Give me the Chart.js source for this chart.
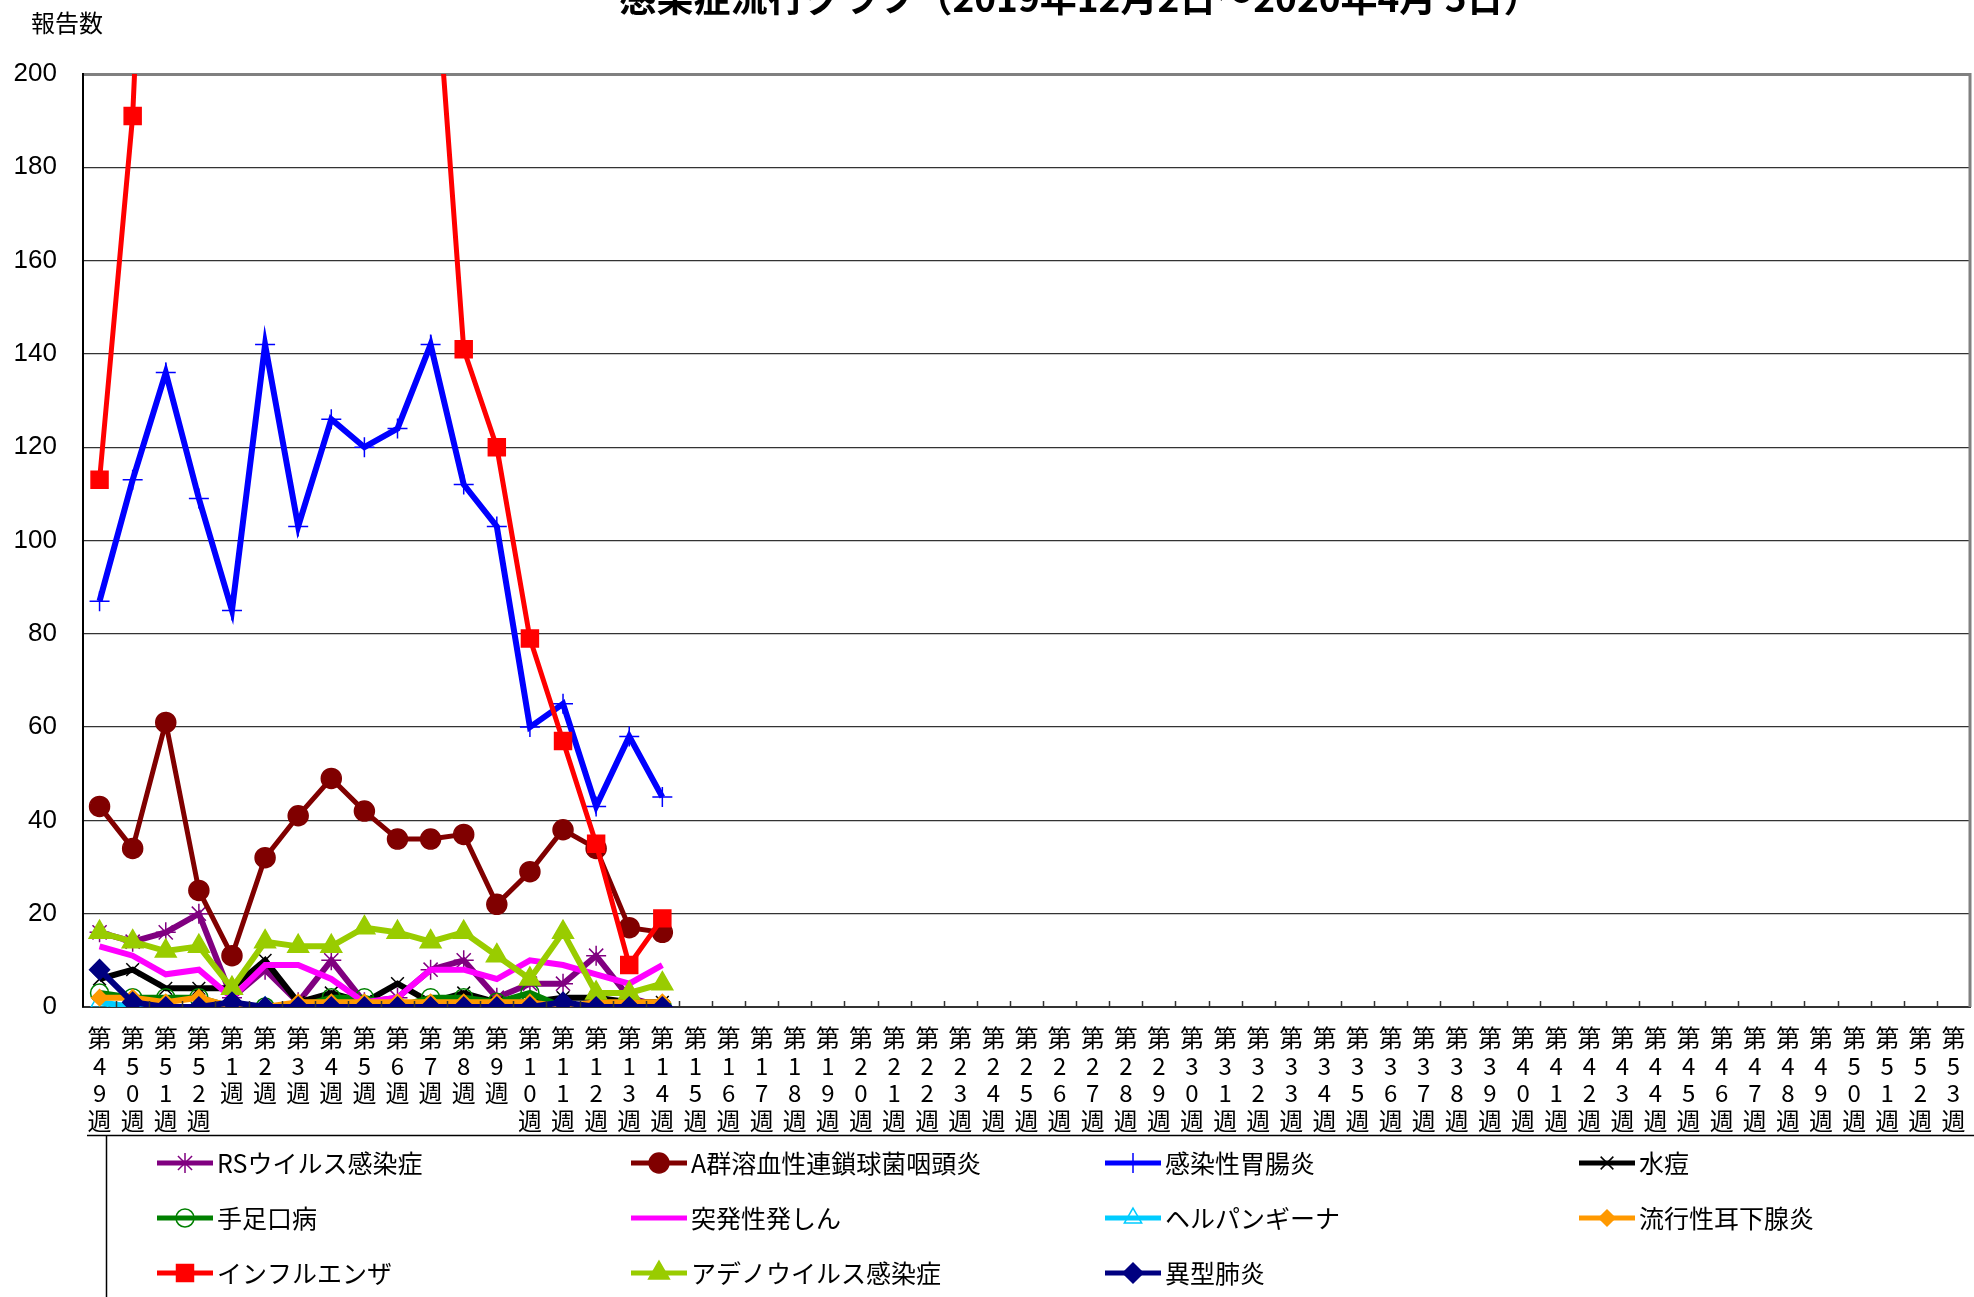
<!DOCTYPE html>
<html>
<head>
<meta charset="utf-8">
<script src="https://cdn.jsdelivr.net/npm/chart.js@4.4.1/dist/chart.umd.min.js"></script>
<style>
  html, body { margin: 0; padding: 0; background: #fff; overflow: hidden; }
  canvas { display: block; }
</style>
</head>
<body>
<canvas id="graph" width="1974" height="1297"></canvas>
<script>
// 週ラベル
const weekLabels = [
  '第49週','第50週','第51週','第52週',
  '第1週','第2週','第3週','第4週','第5週','第6週','第7週','第8週','第9週','第10週',
  '第11週','第12週','第13週','第14週','第15週','第16週','第17週','第18週','第19週','第20週',
  '第21週','第22週','第23週','第24週','第25週','第26週','第27週','第28週','第29週','第30週',
  '第31週','第32週','第33週','第34週','第35週','第36週','第37週','第38週','第39週','第40週',
  '第41週','第42週','第43週','第44週','第45週','第46週','第47週','第48週','第49週','第50週',
  '第51週','第52週','第53週'
];
const yTicks = [0, 20, 40, 60, 80, 100, 120, 140, 160, 180, 200];

// 報告数（第49週〜第14週）
const rsVirus    = [16, 14, 16, 20, 2, 8, 1, 10, 1, 2, 8, 10, 2, 5, 5, 11, 2, 0];
const groupA     = [43, 34, 61, 25, 11, 32, 41, 49, 42, 36, 36, 37, 22, 29, 38, 34, 17, 16];
const gastro     = [87, 113, 136, 109, 85, 142, 103, 126, 120, 124, 142, 112, 103, 60, 65, 43, 58, 45];
const varicella  = [6, 8, 4, 4, 4, 10, 1, 3, 1, 5, 1, 3, 1, 1, 2, 2, 1, 1];
const hfmd       = [3, 2, 2, 2, 0, 0, 0, 2, 2, 0, 2, 2, 1, 3, 0, 0, 0, 0];
const exanthem   = [13, 11, 7, 8, 2, 9, 9, 6, 1, 2, 8, 8, 6, 10, 9, 7, 5, 9];
const herpangina = [1, 0, 0, 0, 0, 0, 0, 0, 0, 0, 0, 0, 0, 0, 0, 0, 0, 0];
const mumps      = [2, 2, 1, 2, 0, 0, 1, 1, 1, 1, 1, 1, 1, 1, 0, 1, 1, 1];
const influenza  = [113, 191, 350, 420, 300, 330, 380, 320, 290, 260, 238, 141, 120, 79, 57, 35, 9, 19];
const adeno      = [16, 14, 12, 13, 4, 14, 13, 13, 17, 16, 14, 16, 11, 6, 16, 3, 3, 5];
const mycoplasma = [8, 1, 0, 0, 1, 0, 0, 0, 0, 0, 0, 0, 0, 0, 1, 0, 0, 0];

const CJK = '"Noto Sans CJK JP", "Noto Sans", sans-serif';

function series(label, data, color, style, radius, hollow, width) {
  return {
    label: label,
    data: data,
    borderColor: color,
    backgroundColor: color,
    borderWidth: width || 6,
    pointStyle: style || false,
    pointRadius: style ? radius : 0,
    pointBackgroundColor: hollow ? 'rgba(0,0,0,0)' : color,
    pointBorderColor: color,
    pointBorderWidth: 1.5,
    tension: 0
  };
}

const datasets = [
  series('RSウイルス感染症', rsVirus, '#800080', 'star', 10),
  series('A群溶血性連鎖球菌咽頭炎', groupA, '#800000', 'circle', 10, false, 5),
  series('感染性胃腸炎', gastro, '#0000FF', 'cross', 10),
  series('水痘', varicella, '#000000', 'crossRot', 9),
  series('手足口病', hfmd, '#008000', 'circle', 9, true),
  series('突発性発しん', exanthem, '#FF00FF', null, 0),
  series('ヘルパンギーナ', herpangina, '#00CCFF', 'triangle', 10, true),
  series('流行性耳下腺炎', mumps, '#FF9900', 'rectRot', 8),
  series('インフルエンザ', influenza, '#FF0000', 'rect', 12, false, 5),
  series('アデノウイルス感染症', adeno, '#99CC00', 'triangle', 12),
  series('異型肺炎', mycoplasma, '#000080', 'rectRot', 10)
];
// Excelと同じく後の系列を上に描く
datasets.forEach((d, i) => { d.order = 100 - i; });

// 凡例の配置
const legendCols = [157, 631, 1105, 1579];
const legendRows = [1163, 1218, 1273];

const decorPlugin = {
  id: 'decor',
  afterDraw(chart) {
    const ctx = chart.ctx;
    const area = chart.chartArea;
    const xs = chart.scales.x;
    ctx.save();

    // 右枠
    ctx.strokeStyle = '#808080';
    ctx.lineWidth = 3;
    ctx.beginPath();
    ctx.moveTo(area.right, area.top - 1);
    ctx.lineTo(area.right, area.bottom);
    ctx.stroke();

    // 横軸の内向き目盛
    const step = (area.right - area.left) / weekLabels.length;
    ctx.strokeStyle = '#333';
    ctx.lineWidth = 1.5;
    ctx.beginPath();
    for (let i = 1; i < weekLabels.length; i++) {
      const x = Math.round(xs.getPixelForValue(i) - step / 2) + 0.5;
      ctx.moveTo(x, area.bottom);
      ctx.lineTo(x, area.bottom - 6);
    }
    ctx.stroke();

    // タイトル（上端で切れている）
    ctx.fillStyle = '#000';
    ctx.font = 'bold 37px ' + CJK;
    ctx.textAlign = 'center';
    ctx.textBaseline = 'alphabetic';
    ctx.fillText('感染症流行グラフ（2019年12月2日～2020年4月 5日）', 1080, 12);

    // 縦軸タイトル
    ctx.font = '24px ' + CJK;
    ctx.textAlign = 'left';
    ctx.textBaseline = 'middle';
    ctx.fillText('報告数', 31, 23);

    // 凡例の枠
    ctx.strokeStyle = '#000';
    ctx.lineWidth = 1.5;
    ctx.beginPath();
    ctx.moveTo(87, 1135.5);
    ctx.lineTo(1974, 1135.5);
    ctx.moveTo(106.5, 1135);
    ctx.lineTo(106.5, 1297);
    ctx.stroke();

    // 凡例
    chart.data.datasets.forEach((ds, i) => {
      const x = legendCols[i % 4];
      const y = legendRows[Math.floor(i / 4)];
      ctx.strokeStyle = ds.borderColor;
      ctx.lineWidth = 5;
      ctx.beginPath();
      ctx.moveTo(x, y);
      ctx.lineTo(x + 56, y);
      ctx.stroke();
      if (ds.pointStyle) {
        ctx.fillStyle = ds.pointBackgroundColor;
        ctx.strokeStyle = ds.pointBorderColor;
        ctx.lineWidth = ds.pointBorderWidth;
        Chart.helpers.drawPoint(ctx, {
          pointStyle: ds.pointStyle,
          radius: ds.pointRadius,
          borderWidth: ds.pointBorderWidth,
          rotation: 0
        }, x + 28, y);
      }
      ctx.fillStyle = '#000';
      ctx.font = '25px ' + CJK;
      ctx.textAlign = 'left';
      ctx.textBaseline = 'middle';
      ctx.fillText(ds.label, x + 60, y);
    });
    ctx.restore();
  }
};

new Chart(document.getElementById('graph'), {
  type: 'line',
  data: { labels: weekLabels, datasets: datasets },
  options: {
    responsive: false,
    animation: false,
    events: [],
    layout: { autoPadding: false, padding: { top: 74, right: 4, bottom: 162, left: 0 } },
    plugins: {
      legend: { display: false },
      title: { display: false },
      tooltip: { enabled: false }
    },
    scales: {
      x: {
        type: 'category',
        offset: true,
        grid: {
          display: true,
          drawOnChartArea: false,
          drawTicks: true,
          tickLength: 17,
          tickColor: 'rgba(0,0,0,0)',
          color: 'rgba(0,0,0,0)'
        },
        border: { display: true, color: '#333', width: 2 },
        ticks: {
          autoSkip: false,
          maxRotation: 0,
          minRotation: 0,
          padding: 0,
          color: '#000',
          font: { family: CJK, size: 24, lineHeight: 1.15 },
          callback: function (v) { return Array.from(this.getLabelForValue(v)); }
        },
        afterFit: s => { s.height = 128; }
      },
      y: {
        min: 0,
        max: 200,
        afterBuildTicks: s => { s.ticks = yTicks.map(v => ({ value: v })); },
        grid: {
          drawTicks: false,
          color: c => (c.tick && c.tick.value === 200) ? '#808080' : '#333',
          lineWidth: c => (c.tick && c.tick.value === 200) ? 3 : 1.2
        },
        border: { display: true, color: '#000', width: 2 },
        ticks: {
          padding: 26,
          color: '#000',
          font: { family: '"Liberation Sans", Arial, sans-serif', size: 26 }
        },
        afterFit: s => { s.width = 83; }
      }
    }
  },
  plugins: [decorPlugin]
});
</script>
</body>
</html>
